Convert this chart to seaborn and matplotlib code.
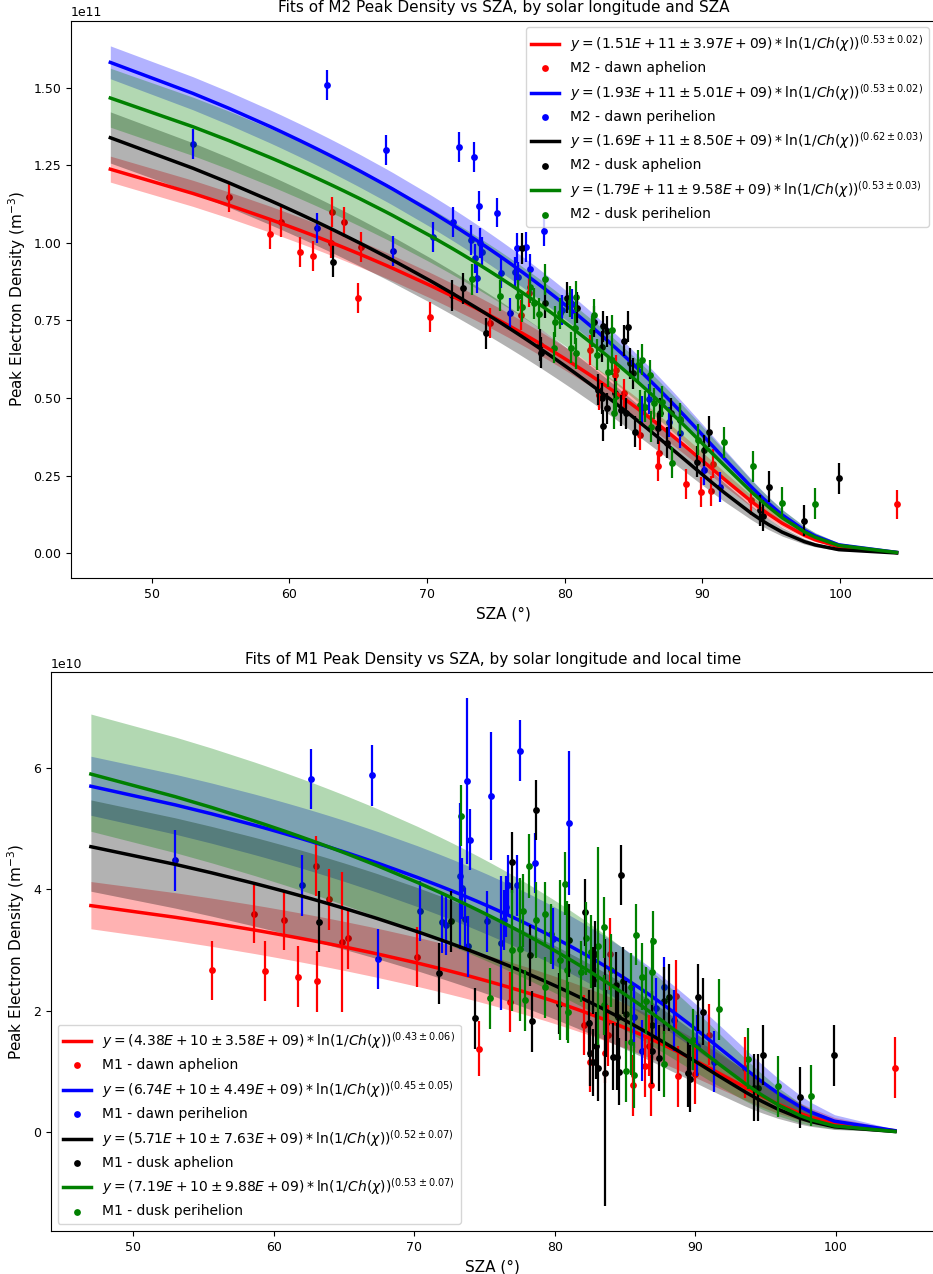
import math
import matplotlib
matplotlib.use("Agg")
import matplotlib.pyplot as plt
from matplotlib.ticker import MultipleLocator
import numpy as np
import seaborn as sns


# ---- M2 layer (values in units of 1e11 m^-3) ----
m2_dawn_aph_sza = [55.6, 58.6, 59.4, 60.8, 61.7, 63.1, 63.05, 64.0, 65.0, 65.2, 70.2, 74.6, 76.8, 77.4,
                   81.8, 82.5, 83.65, 83.75, 84.3, 85.5, 86.85, 86.8, 88.8, 89.9, 90.6, 90.8, 93.5, 104.1]
m2_dawn_aph_ne = [1.148, 1.028, 1.067, 0.971, 0.958, 1.100, 1.000, 1.068, 0.822, 0.988, 0.761, 0.741, 0.768, 0.840,
                  0.655, 0.510, 0.574, 0.590, 0.515, 0.381, 0.322, 0.281, 0.223, 0.198, 0.200, 0.289, 0.170, 0.157]

m2_dawn_peri_sza = [53.0, 62.0, 62.7, 67.0, 67.5, 70.4, 71.9, 72.3, 73.4, 73.2, 73.45, 73.6, 73.8, 73.85, 74.0, 75.05,
                    75.4, 76.0, 76.4, 76.5, 76.6, 77.2, 77.5, 78.5, 79.8, 80.5, 85.6, 86.1, 87.6, 88.4, 90.1, 91.3]
m2_dawn_peri_ne = [1.319, 1.048, 1.510, 1.300, 0.974, 1.020, 1.068, 1.309, 1.278, 1.010, 0.950, 0.888, 1.120, 1.000,
                   0.972, 1.098, 0.902, 0.773, 0.907, 0.983, 0.891, 0.988, 0.915, 1.039, 0.784, 0.803, 0.459, 0.497,
                   0.424, 0.388, 0.268, 0.214]

m2_dusk_aph_sza = [63.2, 71.8, 72.6, 74.3, 76.9, 78.2, 78.3, 78.6, 80.2, 80.9, 82.1, 82.4, 82.7, 82.75, 82.7, 82.75,
                   83.05, 83.1, 83.65, 84.1, 84.3, 84.45, 84.6, 84.75, 84.95, 85.1, 86.8, 86.9, 87.4, 87.75, 88.4,
                   89.6, 90.1, 90.5, 94.2, 94.4, 94.8, 97.4, 99.9]
m2_dusk_aph_ne = [0.940, 0.831, 0.854, 0.709, 0.983, 0.671, 0.646, 0.807, 0.824, 0.791, 0.746, 0.526, 0.666, 0.732,
                  0.499, 0.410, 0.467, 0.716, 0.515, 0.461, 0.685, 0.451, 0.730, 0.612, 0.580, 0.391, 0.402, 0.451,
                  0.356, 0.451, 0.429, 0.295, 0.332, 0.391, 0.138, 0.121, 0.214, 0.105, 0.242]

m2_dusk_peri_sza = [73.25, 75.3, 76.6, 76.9, 77.5, 77.8, 78.15, 78.6, 79.2, 79.3, 79.65, 80.4, 80.45, 80.75, 80.8,
                    80.85, 82.0, 82.1, 82.35, 83.15, 83.4, 83.45, 83.55, 83.7, 85.35, 85.45, 85.6, 85.8, 86.2, 86.3,
                    86.45, 87.05, 87.8, 88.4, 89.7, 91.6, 93.7, 95.8, 98.2]
m2_dusk_peri_ne = [0.883, 0.829, 0.829, 0.795, 0.857, 0.805, 0.771, 0.883, 0.662, 0.746, 0.773, 0.811, 0.662, 0.725,
                   0.827, 0.644, 0.716, 0.768, 0.639, 0.585, 0.719, 0.623, 0.451, 0.505, 0.606, 0.477, 0.623, 0.472,
                   0.574, 0.407, 0.483, 0.488, 0.291, 0.434, 0.365, 0.357, 0.280, 0.162, 0.159]

# one error bar size per M2 group (1e11)
m2_err = [0.048, 0.048, 0.050, 0.050]

# fit parameters of the M2 groups
m2_amp = [1.51e11, 1.93e11, 1.69e11, 1.79e11]
m2_amp_err = [3.97e9, 5.01e9, 8.50e9, 9.58e9]
m2_pow = [0.53, 0.53, 0.62, 0.53]
m2_pow_err = [0.02, 0.02, 0.03, 0.03]

# ---- M1 layer (values in units of 1e10 m^-3) ----
m1_dawn_aph_sza = [55.6, 58.6, 59.4, 60.75, 61.75, 63.05, 63.1, 63.95, 64.9, 65.3, 70.2, 74.6, 76.8, 82.05,
                   82.5, 83.55, 83.8, 83.9, 85.55, 86.45, 86.7, 86.85, 88.6, 88.8, 90.0, 90.95, 93.5, 104.2]
m1_dawn_aph_ne = [2.66, 3.59, 2.65, 3.49, 2.56, 4.38, 2.48, 3.83, 3.13, 3.19, 2.88, 1.37, 2.14, 1.76,
                  1.16, 1.30, 1.59, 2.93, 0.77, 1.08, 1.42, 0.77, 2.24, 0.92, 0.96, 1.60, 1.06, 1.06]
m1_dawn_aph_err = [0.49, 0.48, 0.50, 0.50, 0.50, 0.50, 0.50, 0.50, 1.15, 0.50, 0.50, 0.45, 0.50, 0.50,
                   0.50, 0.50, 0.50, 0.60, 0.50, 0.50, 0.50, 0.50, 0.60, 0.50, 0.50, 0.50, 0.50, 0.50]

m1_dawn_peri_sza = [53.0, 62.0, 62.65, 67.0, 67.4, 70.4, 71.95, 72.25, 73.25, 73.4, 73.65, 73.75, 73.8, 74.0,
                    75.15, 75.45, 76.15, 76.4, 76.55, 76.7, 77.3, 77.5, 78.6, 79.9, 81.0, 85.65, 86.2, 87.2,
                    87.8, 88.45, 90.15, 91.35]
m1_dawn_peri_ne = [4.47, 4.06, 5.81, 5.87, 2.85, 3.64, 3.45, 3.41, 4.21, 4.01, 3.51, 5.78, 3.06, 4.81,
                   3.47, 5.53, 3.11, 3.49, 3.71, 4.06, 4.06, 6.28, 4.43, 3.18, 5.09, 1.89, 1.34, 2.04,
                   2.38, 1.84, 1.42, 1.16]
m1_dawn_peri_err = [0.50, 0.50, 0.50, 0.50, 0.50, 0.50, 0.50, 0.50, 1.20, 0.50, 0.50, 1.37, 0.50, 0.50,
                    0.50, 1.06, 1.10, 0.50, 0.50, 0.50, 0.50, 0.50, 0.50, 0.50, 1.19, 0.50, 0.50, 0.50,
                    0.50, 0.50, 0.50, 0.50]

m1_dusk_aph_sza = [63.25, 71.8, 72.65, 74.35, 76.95, 78.25, 78.4, 78.7, 80.3, 81.0, 82.15, 82.45, 82.5, 82.7,
                   82.75, 82.85, 82.9, 83.05, 83.6, 83.65, 84.15, 84.35, 84.45, 84.5, 84.6, 84.7, 84.85, 85.05,
                   86.9, 86.95, 87.4, 87.8, 88.1, 89.45, 89.65, 90.2, 90.55, 94.2, 94.45, 94.8, 97.45, 99.9]
m1_dusk_aph_ne = [3.46, 2.61, 3.47, 1.87, 4.44, 2.91, 1.82, 5.30, 2.11, 3.16, 3.62, 1.79, 1.30, 1.15,
                  2.50, 2.93, 1.42, 1.06, 0.98, 1.79, 1.24, 2.42, 1.24, 1.90, 0.99, 4.23, 2.49, 1.94,
                  1.77, 1.34, 1.22, 2.16, 2.22, 0.97, 0.88, 2.22, 1.98, 0.73, 0.73, 1.27, 0.57, 1.26]
m1_dusk_aph_err = [0.50, 0.50, 0.50, 0.50, 0.50, 0.50, 0.50, 0.50, 0.50, 0.60, 0.55, 0.55, 0.55, 0.55,
                   0.55, 0.55, 0.55, 0.55, 2.19, 0.55, 0.55, 0.55, 0.55, 0.55, 0.55, 0.50, 0.55, 0.55,
                   0.55, 0.55, 0.55, 0.55, 0.55, 0.55, 0.55, 0.55, 0.55, 0.55, 0.55, 0.50, 0.50, 0.50]

m1_dusk_peri_sza = [73.3, 75.4, 76.95, 77.5, 77.75, 77.85, 78.2, 78.7, 79.3, 79.3, 79.7, 80.4, 80.7, 80.85,
                    80.95, 81.9, 82.2, 82.55, 83.1, 83.5, 83.5, 84.0, 85.1, 85.45, 85.45, 85.65, 85.75, 86.2,
                    86.5, 86.95, 87.0, 87.8, 89.8, 91.65, 93.75, 95.9, 98.25]
m1_dusk_peri_ne = [5.21, 2.20, 2.99, 3.01, 3.64, 2.17, 4.38, 3.49, 3.59, 2.38, 3.26, 2.83, 4.09, 2.66,
                   1.97, 2.64, 3.19, 2.97, 3.06, 3.37, 2.09, 2.66, 1.00, 2.39, 1.49, 0.94, 3.25, 2.56,
                   2.16, 2.64, 3.14, 1.12, 1.52, 2.02, 1.21, 0.75, 0.60]
m1_dusk_peri_err = [0.50, 0.50, 1.00, 1.18, 0.60, 0.50, 0.52, 0.63, 0.53, 0.50, 0.50, 1.32, 0.52, 1.15,
                    0.50, 0.50, 0.60, 0.60, 1.63, 0.50, 0.50, 0.60, 0.50, 0.55, 0.55, 0.55, 0.50, 0.55,
                    0.55, 0.55, 0.50, 0.55, 0.50, 0.50, 0.50, 0.50, 0.50]

# fit parameters of the M1 groups
m1_amp = [4.38e10, 6.74e10, 5.71e10, 7.19e10]
m1_amp_err = [3.58e9, 4.49e9, 7.63e9, 9.88e9]
m1_pow = [0.43, 0.45, 0.52, 0.53]
m1_pow_err = [0.06, 0.05, 0.07, 0.07]

colors = ["red", "blue", "black", "green"]
groups = ["dawn aphelion", "dawn perihelion", "dusk aphelion", "dusk perihelion"]

# (R + h) / H used in the Chapman grazing incidence function
CHAP_X = 290.0
SZA_START = 47.0


def chapman(sza_deg, x_ratio=CHAP_X):
    """Chapman grazing incidence function Ch(X, chi), valid on both sides of 90 deg."""
    out = []
    for chi in np.radians(sza_deg):
        y = math.sqrt(x_ratio / 2) * abs(math.cos(chi))
        ch_low = math.sqrt(math.pi * x_ratio / 2) * math.exp(y * y) * math.erfc(y)
        if chi <= math.pi / 2:
            out.append(ch_low)
        else:
            s = math.sin(chi)
            out.append(math.sqrt(2 * math.pi * x_ratio * s) * math.exp(x_ratio * (1 - s)) - ch_low)
    return np.array(out)


def fit_label(amp, amp_err, p, p_err):
    return (rf"$y = ({amp:.2E} \pm {amp_err:.2E}) * \ln(1/Ch(\chi))^{{({p:.2f} \pm {p_err:.2f})}}$")


def draw_panel(ax, layer, series, scale, amps, amp_errs, pows, pow_errs, errs):
    # the model is evaluated at the observed SZAs of the panel (plus the start of the range)
    grid = np.unique(np.concatenate([[SZA_START]] + [np.array(sza) for sza, _ in series]))
    inv_ch = 1.0 / chapman(grid)

    for i, (sza, ne) in enumerate(series):
        c = colors[i]
        fit = amps[i] * inv_ch ** pows[i]
        combos = [(amps[i] + sa) * inv_ch ** (pows[i] + sp)
                  for sa in (-amp_errs[i], amp_errs[i]) for sp in (-pow_errs[i], pow_errs[i])]
        lo, hi = np.min(combos, axis=0), np.max(combos, axis=0)

        sns.lineplot(x=grid, y=fit, color=c, linewidth=2.5, ax=ax,
                     label=fit_label(amps[i], amp_errs[i], pows[i], pow_errs[i]))
        ax.fill_between(grid, lo, hi, color=c, alpha=0.3, linewidth=0)

        x = np.array(sza)
        y = np.array(ne) * scale
        yerr = np.array(errs[i]) * scale
        sns.scatterplot(x=x, y=y, color=c, s=24, linewidth=0, ax=ax,
                        label=f"{layer} - {groups[i]}")
        ax.errorbar(x, y, yerr=yerr, fmt="none", ecolor=c, elinewidth=1.6)


fig = plt.figure(figsize=(9.33, 12.74), dpi=100)
ax_top = fig.add_axes([0.0761, 0.546, 0.927, 0.4379])
ax_bot = fig.add_axes([0.0543, 0.0338, 0.948, 0.4385])

draw_panel(ax_top, "M2",
           [(m2_dawn_aph_sza, m2_dawn_aph_ne), (m2_dawn_peri_sza, m2_dawn_peri_ne),
            (m2_dusk_aph_sza, m2_dusk_aph_ne), (m2_dusk_peri_sza, m2_dusk_peri_ne)],
           1e11, m2_amp, m2_amp_err, m2_pow, m2_pow_err, m2_err)
draw_panel(ax_bot, "M1",
           [(m1_dawn_aph_sza, m1_dawn_aph_ne), (m1_dawn_peri_sza, m1_dawn_peri_ne),
            (m1_dusk_aph_sza, m1_dusk_aph_ne), (m1_dusk_peri_sza, m1_dusk_peri_ne)],
           1e10, m1_amp, m1_amp_err, m1_pow, m1_pow_err,
           [m1_dawn_aph_err, m1_dawn_peri_err, m1_dusk_aph_err, m1_dusk_peri_err])

ax_top.set_title("Fits of M2 Peak Density vs SZA, by solar longitude and SZA", fontsize=11)
ax_bot.set_title("Fits of M1 Peak Density vs SZA, by solar longitude and local time", fontsize=11)
ax_top.yaxis.set_major_locator(MultipleLocator(0.25e11))

for ax in (ax_top, ax_bot):
    ax.set_xlabel("SZA (°)", fontsize=11)
    ax.set_ylabel(r"Peak Electron Density (m$^{-3}$)", fontsize=11)
    ax.tick_params(labelsize=9)
    ax.yaxis.get_offset_text().set_fontsize(9)

ax_top.legend(loc="upper right", fontsize=10)
ax_bot.legend(loc="lower left", fontsize=10)

fig.savefig("out.png", dpi=100)
